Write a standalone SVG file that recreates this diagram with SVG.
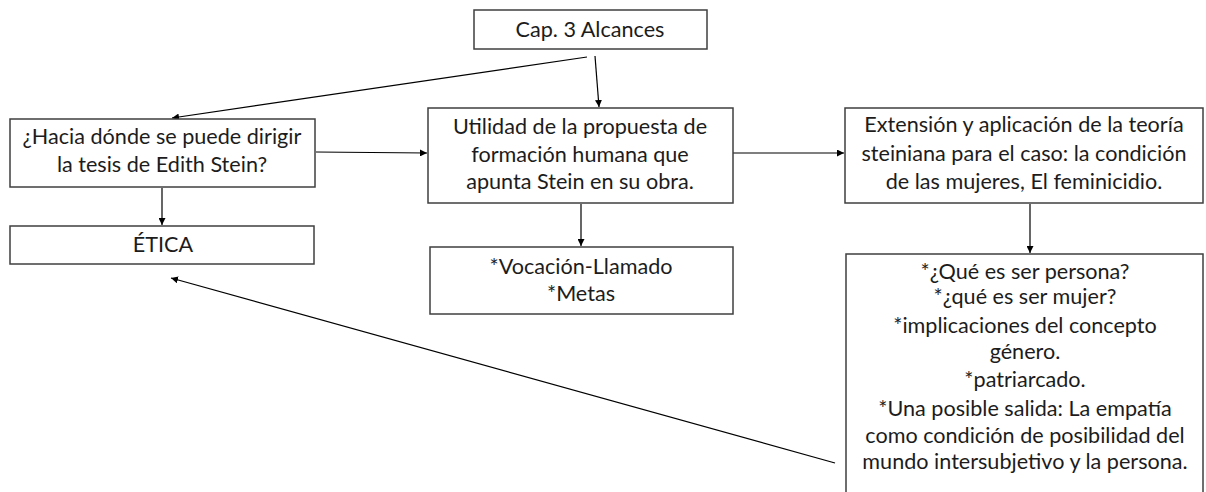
<svg xmlns="http://www.w3.org/2000/svg" width="1206" height="492" viewBox="0 0 1206 492">
<defs>
<marker id="ah" viewBox="0 0 10 10" refX="10" refY="5" markerWidth="7" markerHeight="7" markerUnits="userSpaceOnUse" orient="auto">
<path d="M0,0 L10,5 L0,10 z" fill="#000"/>
</marker>
<style>
.box{fill:#fff;stroke:#3f3f3f;stroke-width:1.5}
.t{font-family:Lato,"Liberation Sans",sans-serif;font-size:21.6px;fill:#1c1c1c;text-anchor:middle}
.c{stroke:#000;stroke-width:1.2;fill:none;marker-end:url(#ah)}
</style>
</defs>
<rect width="1206" height="492" fill="#fff"/>
<g id="connectors">
<line class="c" x1="595" y1="56" x2="599" y2="107"/>
<line class="c" x1="587" y1="57" x2="172" y2="118"/>
<line class="c" x1="316" y1="152" x2="427" y2="153"/>
<line class="c" x1="732" y1="153" x2="844" y2="153"/>
<line class="c" x1="1030" y1="204" x2="1030" y2="253"/>
<line class="c" x1="162" y1="188" x2="162" y2="225"/>
<line class="c" x1="581" y1="204" x2="581" y2="246"/>
<line class="c" x1="835" y1="463" x2="171" y2="278"/>
</g>
<g id="cap3">
<rect class="box" x="474" y="10" width="233" height="39"/>
<text class="t" x="590" y="37">Cap. 3 Alcances</text>
</g>
<g id="hacia">
<rect class="box" x="10" y="119" width="305" height="68"/>
<text class="t" x="162" y="144">¿Hacia dónde se puede dirigir</text>
<text class="t" x="162" y="172">la tesis de Edith Stein?</text>
</g>
<g id="utilidad">
<rect class="box" x="428" y="108" width="305" height="95"/>
<text class="t" x="580" y="134">Utilidad de la propuesta de</text>
<text class="t" x="580" y="162">formación humana que</text>
<text class="t" x="580" y="189">apunta Stein en su obra.</text>
</g>
<g id="extension">
<rect class="box" x="845" y="108" width="358" height="95"/>
<text class="t" x="1024" y="132">Extensión y aplicación de la teoría</text>
<text class="t" x="1024" y="161">steiniana para el caso: la condición</text>
<text class="t" x="1024" y="189">de las mujeres, El feminicidio.</text>
</g>
<g id="etica">
<rect class="box" x="10" y="226" width="304" height="38"/>
<text class="t" x="163" y="252">ÉTICA</text>
</g>
<g id="vocacion">
<rect class="box" x="430" y="247" width="303" height="67"/>
<text class="t" x="581" y="274">*Vocación-Llamado</text>
<text class="t" x="581" y="301">*Metas</text>
</g>
<g id="preguntas">
<rect class="box" x="846" y="254" width="357" height="250"/>
<text class="t" x="1025" y="279">*¿Qué es ser persona?</text>
<text class="t" x="1025" y="304">*¿qué es ser mujer?</text>
<text class="t" x="1025" y="333">*implicaciones del concepto</text>
<text class="t" x="1025" y="359">género.</text>
<text class="t" x="1025" y="387">*patriarcado.</text>
<text class="t" x="1025" y="416">*Una posible salida: La empatía</text>
<text class="t" x="1025" y="443">como condición de posibilidad del</text>
<text class="t" x="1025" y="469">mundo intersubjetivo y la persona.</text>
</g>
</svg>
